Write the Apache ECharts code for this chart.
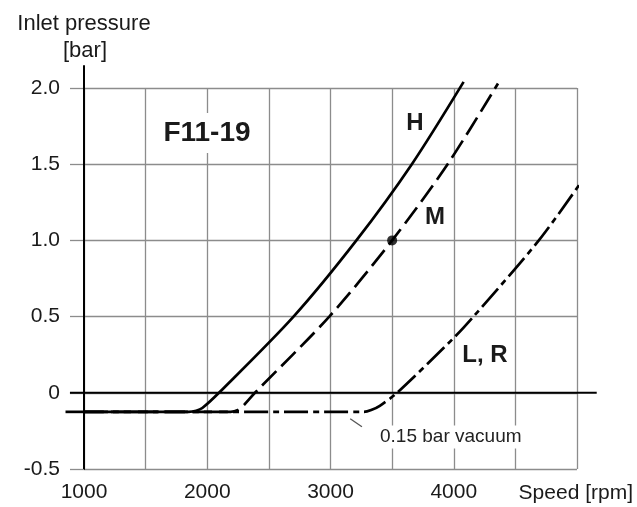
<!DOCTYPE html>
<html><head><meta charset="utf-8">
<script src="https://cdn.jsdelivr.net/npm/echarts@6/dist/echarts.min.js"></script>
<style>html,body{margin:0;padding:0;background:#fff}#c{width:637px;height:507px}</style>
</head><body><div id="c"></div>
<script>
// ---- data ----
const xTickValues = [1000, 2000, 3000, 4000];
const yTickLabels = {"-0.5": "-0.5", "0": "0", "0.5": "0.5", "1": "1.0", "1.5": "1.5", "2": "2.0"};
const vacuumLevel = -0.125;
const curveH_rpm = [1000, 1850, 1910, 1960, 2095, 2700, 3210, 3660, 4080];
const curveH_bar = [vacuumLevel, vacuumLevel, -0.118, -0.1, 0, 0.5, 1.0, 1.5, 2.04];
const curveM_rpm = [1000, 2190, 2250, 2300, 2387, 2990, 3500, 3950, 4359];
const curveM_bar = [vacuumLevel, vacuumLevel, -0.112, -0.078, 0, 0.5, 1.0, 1.5, 2.03];
const curveLR_rpm = [1000, 3270, 3330, 3400, 3540, 4000, 4160, 4690, 5049];
const curveLR_bar = [vacuumLevel, vacuumLevel, -0.113, -0.085, 0, 0.36, 0.5, 1.0, 1.40];
const designPoint = [3500, 1.0];
const zeroLine = [[886, 0], [5160, 0]];
const vacuumStub = [[850, vacuumLevel], [1000, vacuumLevel]];
const yAxisExt = [[1000, -0.5], [1000, 2.15]];
const vacuumLeader = [[3160, -0.17], [3255, -0.223]];

const zip = (a, b) => a.map((v, i) => [v, b[i]]);
const FONT = '"Liberation Sans", Arial, Helvetica, sans-serif';
const GRID = '#8c8c8c';
const INK = '#1a1a1a';

const chart = echarts.init(document.getElementById('c'), null, {renderer: 'canvas'});
const option = {
  animation: false,
  backgroundColor: '#fff',
  grid: {left: 84, right: 60, top: 88, bottom: 38, containLabel: false},
  xAxis: {
    type: 'value', min: 1000, max: 5000, interval: 500,
    axisLine: {show: false},
    axisTick: {show: false},
    splitLine: {show: true, lineStyle: {color: GRID, width: 1.3}},
    axisLabel: {
      margin: 13, color: INK, fontFamily: FONT, fontSize: 21,
      formatter: v => xTickValues.indexOf(v) >= 0 ? String(v) : ''
    }
  },
  yAxis: {
    type: 'value', min: -0.5, max: 2.0, interval: 0.5,
    axisLine: {show: true, lineStyle: {color: '#000', width: 2}},
    axisTick: {show: true, length: 14, lineStyle: {color: GRID, width: 1.3}},
    splitLine: {show: true, lineStyle: {color: GRID, width: 1.3}},
    axisLabel: {
      margin: 24, color: INK, fontFamily: FONT, fontSize: 21,
      formatter: v => yTickLabels[String(v)] !== undefined ? yTickLabels[String(v)] : String(v)
    }
  },
  series: [
    {type: 'line', data: yAxisExt, symbol: 'none', clip: false, silent: true,
     lineStyle: {color: '#000', width: 2}, z: 3},
    {type: 'line', data: vacuumLeader, symbol: 'none', clip: false, silent: true,
     lineStyle: {color: '#555', width: 1.3}, z: 3},
    {name: 'L, R', type: 'line', data: zip(curveLR_rpm, curveLR_bar), symbol: 'none',
     smooth: 0.3, clip: false, z: 4,
     lineStyle: {color: '#000', width: 2.7, type: [24, 5, 6, 5]}},
    {name: 'M', type: 'line', data: zip(curveM_rpm, curveM_bar), symbol: 'none',
     smooth: 0.3, clip: false, z: 5,
     lineStyle: {color: '#000', width: 2.7, type: [20, 7]}},
    {name: 'H', type: 'line', data: zip(curveH_rpm, curveH_bar), symbol: 'none',
     smooth: 0.3, clip: false, z: 6,
     lineStyle: {color: '#000', width: 2.7, type: 'solid'}},
    {type: 'scatter', data: [designPoint], symbol: 'circle', symbolSize: 10,
     itemStyle: {color: '#000'}, z: 7}
  ]
};
chart.setOption(option);

const px = p => chart.convertToPixel({gridIndex: 0}, p);
const seg = (pts, w, color, z) => {
  const a = px(pts[0]), b = px(pts[1]);
  return {type: 'line', z: z, silent: true,
    shape: {x1: a[0], y1: a[1], x2: b[0], y2: b[1]},
    style: {stroke: color, lineWidth: w}};
};
const txt = (x, y, text, font, extra) => Object.assign({type: 'text', x: x, y: y, z: 10,
  style: Object.assign({text: text, font: font, fill: INK, align: 'center', verticalAlign: 'middle'}, extra || {})});

chart.setOption({
  graphic: [
    seg(zeroLine, 2, '#000', 5),
    seg(vacuumStub, 2.7, '#000', 5),
    txt(84, 24, 'Inlet pressure', '22px ' + FONT),
    txt(85, 51, '[bar]', '22px ' + FONT),
    txt(633, 493, 'Speed [rpm]', '21px ' + FONT, {align: 'right'}),
    Object.assign(txt(207, 133, 'F11-19', 'bold 28px ' + FONT, {backgroundColor: '#fff', padding: [6, 4]}), {z: 2}),
    txt(415, 123, 'H', 'bold 24px ' + FONT),
    txt(435, 217, 'M', 'bold 24px ' + FONT),
    txt(485, 355, 'L, R', 'bold 24px ' + FONT),
    Object.assign(txt(378, 437, '0.15 bar vacuum', '19px ' + FONT, {align: 'left', fill: '#222', backgroundColor: '#fff', padding: [2, 2]}), {z: 2})
  ]
});
</script>
</body></html>
